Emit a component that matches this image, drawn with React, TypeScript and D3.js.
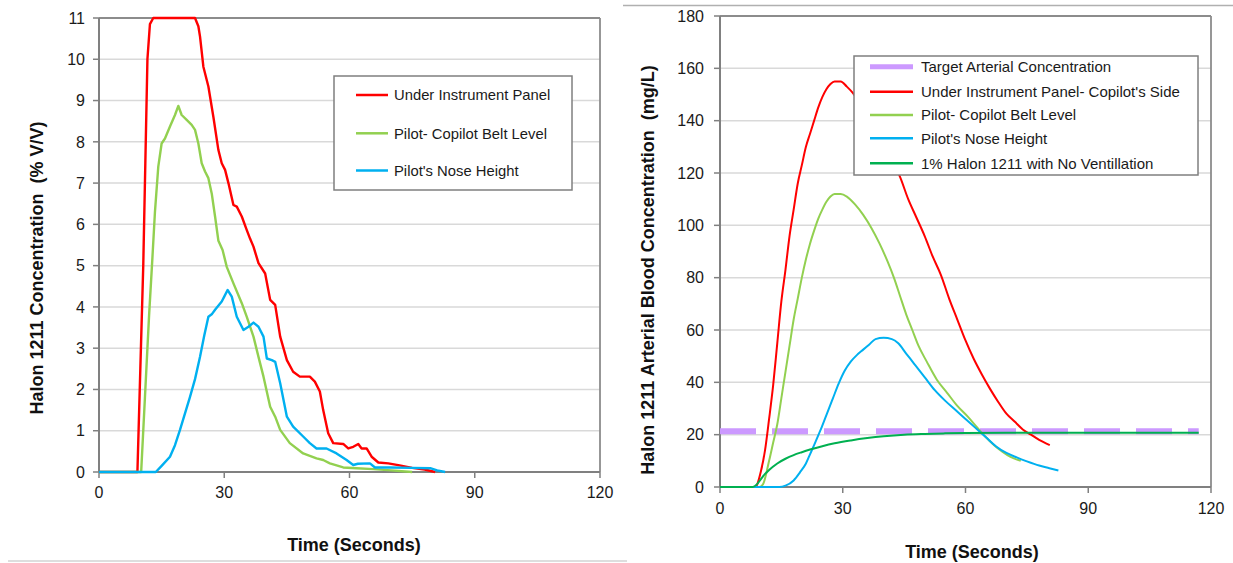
import React from "react";
import * as d3 from "d3";

const FONT = "Arial, 'Liberation Sans', Helvetica, sans-serif";

type Pt = [number, number];

// ---------- Left chart data (Halon 1211 concentration, % V/V) ----------
const leftXTicks = [0, 30, 60, 90, 120];
const leftYTicks = [0, 1, 2, 3, 4, 5, 6, 7, 8, 9, 10, 11];

const leftRed: Pt[] = [
  [0, 0], [9.2, 0], [9.9, 2.5], [10.6, 5], [11.1, 7.5], [11.6, 10], [12.2, 10.85], [13, 11], [23, 11],
  [23.8, 10.8], [24.2, 10.55], [25, 9.82], [26.2, 9.34], [27.4, 8.6], [28.6, 7.8], [29.4, 7.48], [30.2, 7.32],
  [31, 7], [32.2, 6.47], [33, 6.43], [34.2, 6.19], [35.4, 5.86], [36.2, 5.65], [37, 5.46], [38.2, 5.06],
  [39.8, 4.81], [41, 4.17], [42.2, 4.05], [43.4, 3.28], [45, 2.71], [46.5, 2.43], [48.1, 2.31], [50.5, 2.31],
  [51.7, 2.19], [52.9, 1.95], [53.7, 1.5], [54.9, 0.94], [56.1, 0.7], [58.5, 0.68], [59.7, 0.57], [60.9, 0.61],
  [62.1, 0.68], [62.9, 0.57], [64.1, 0.57], [65.3, 0.37], [66.9, 0.23], [69.3, 0.21], [72, 0.16], [75, 0.1],
  [78, 0.06], [80.5, 0],
];

const leftGreen: Pt[] = [
  [0, 0], [10.1, 0], [11, 1.8], [12, 3.8], [12.8, 5.2], [13.4, 6.3], [14.2, 7.4], [15, 7.96], [15.8, 8.08],
  [17, 8.37], [18.2, 8.65], [19, 8.87], [19.8, 8.65], [21, 8.53], [22.2, 8.41], [23, 8.29], [23.8, 7.96],
  [24.6, 7.48], [25.4, 7.28], [26.2, 7.12], [27, 6.75], [27.8, 6.19], [28.6, 5.6], [29.6, 5.38], [30.6, 4.97],
  [32.2, 4.57], [34.2, 4.09], [35.4, 3.76], [37, 3.28], [38.2, 2.79], [39.4, 2.31], [41, 1.58], [42.2, 1.34],
  [43.4, 1.02], [45.7, 0.7], [48.9, 0.45], [52.1, 0.33], [53.7, 0.29], [55.3, 0.21], [58.5, 0.11], [61.7, 0.09],
  [65.7, 0.07], [70, 0.04], [75, 0],
];

const leftBlue: Pt[] = [
  [0, 0], [13.6, 0], [15, 0.15], [17, 0.37], [18.2, 0.65], [19.4, 1.02], [21.8, 1.82], [23, 2.25], [24.2, 2.79],
  [25.2, 3.3], [26.2, 3.76], [27, 3.82], [27.8, 3.93], [29.4, 4.13], [30, 4.25], [30.8, 4.41], [31.8, 4.25],
  [33, 3.76], [34.6, 3.44], [35.8, 3.52], [37, 3.62], [38.2, 3.52], [39.4, 3.28], [40.2, 2.75], [41.4, 2.71],
  [42.2, 2.67], [43.4, 2.15], [45, 1.34], [46.5, 1.1], [48.9, 0.86], [50.5, 0.7], [52.1, 0.57], [54.5, 0.57],
  [56.9, 0.45], [59.3, 0.29], [60.9, 0.17], [62, 0.2], [64.9, 0.21], [66.1, 0.11], [69.7, 0.11], [75, 0.1],
  [79.5, 0.09], [81, 0.04], [82.9, 0],
];

const leftNames = ["Under Instrument Panel", "Pilot- Copilot Belt Level", "Pilot's Nose Height"];

// ---------- Right chart data (arterial blood concentration, mg/L) ----------
const rightXTicks = [0, 30, 60, 90, 120];
const rightYTicks = [0, 20, 40, 60, 80, 100, 120, 140, 160, 180];

const rightTarget: Pt[] = [[0, 21.3], [117, 21.3]];

const rightRed: Pt[] = [
  [0, 0], [8.6, 0], [10, 6], [11, 14], [12, 26], [13, 39], [14, 55], [15, 71], [16, 83], [17, 96], [18, 106],
  [19, 116], [20, 123], [21, 130], [22, 135], [23, 140], [24, 145], [25, 149], [26, 152], [27, 154], [28, 155],
  [29.5, 155], [31, 153], [32.5, 150.5], [34, 147], [36, 142], [38, 136.5], [40, 131], [42, 125], [44, 118.5],
  [46, 110], [48, 103], [50, 96], [52, 88], [54, 81], [56, 72], [58, 64], [60, 56], [62, 49], [64, 43],
  [66, 37.5], [68, 32.5], [70, 28], [72, 25], [74, 22], [76, 20], [78, 18], [80.6, 16],
];

const rightGreen: Pt[] = [
  [0, 0], [9.6, 0], [10.5, 1], [12, 10], [13, 17], [14, 24], [15, 34], [16, 44], [17, 54], [18, 64], [19, 72],
  [20, 80], [21, 87], [22, 93], [23, 98], [24, 102.5], [25, 106], [26, 109], [27, 111], [28, 112], [29.5, 112],
  [31, 111], [33, 108], [35, 104], [37, 99], [39, 93], [41, 86], [42.5, 80], [44, 73], [45.5, 66], [47, 60],
  [48.5, 54], [50.5, 48], [53, 41], [55.5, 36], [58, 31], [60.5, 27], [63, 22.5], [65, 19], [67, 16],
  [69, 13.5], [71, 11.5], [73.5, 10],
];

const rightBlue: Pt[] = [
  [0, 0], [14.5, 0], [16, 0.5], [18, 2.5], [19.5, 5.5], [21, 9], [22, 12.5], [23, 16], [24.5, 21.5], [26, 27.5],
  [27.5, 33.5], [29, 39.5], [30.5, 44.5], [32, 48], [33.5, 50.5], [35, 52.5], [36.5, 54.5], [38, 56.5],
  [40, 57], [42, 56.5], [43.5, 55], [45.5, 51], [47.5, 47], [50, 42], [52.5, 37], [55, 33], [57.5, 29.5],
  [60, 26], [62.5, 22.5], [65, 19], [67.5, 15.5], [70, 13], [72.5, 11.3], [75, 9.8], [78, 8.2], [80.5, 7.2],
  [82.7, 6.3],
];

const rightDarkGreen: Pt[] = [
  [0, 0], [8, 0], [9, 1], [10, 3], [11, 5], [12, 6.5], [13, 7.8], [14, 9], [16, 10.8], [18, 12.2], [20, 13.3],
  [22, 14.3], [25, 15.6], [28, 16.7], [32, 17.8], [36, 18.7], [40, 19.4], [45, 20], [50, 20.3], [55, 20.5],
  [60, 20.6], [70, 20.7], [80, 20.7], [90, 20.7], [100, 20.7], [117, 20.7],
];

const rightNames = [
  "Target Arterial Concentration",
  "Under Instrument Panel- Copilot's Side",
  "Pilot- Copilot Belt Level",
  "Pilot's Nose Height",
  "1% Halon 1211 with No Ventillation",
];

const RED = "#ff0000";
const LGREEN = "#92d050";
const BLUE = "#00b0f0";
const DGREEN = "#00b050";
const LAVENDER = "#cc99ff";

type Series = { data: Pt[]; color: string; width: number; dash?: string; smooth?: boolean };
type LegendItem = { name: string; color: string; width: number };

type PanelProps = {
  x0: number; x1: number; y0: number; y1: number;
  xMax: number; yMax: number;
  xTicks: number[]; yTicks: number[];
  series: Series[];
  yLabelX: number; xLabelY: number;
  xTitle: string; xTitleX: number; xTitleY: number;
  yTitle: string; yTitleX: number; yTitleY: number;
  legend: LegendItem[];
  lgBox: { x: number; y: number; w: number; h: number };
  lgRows: number[]; lgLine: [number, number]; lgText: number; lgFont: number;
};

function Panel(p: PanelProps) {
  const xs = d3.scaleLinear().domain([0, p.xMax]).range([p.x0, p.x1]);
  const ys = d3.scaleLinear().domain([0, p.yMax]).range([p.y1, p.y0]);
  const mk = (smooth?: boolean) =>
    d3.line<Pt>().x((d) => xs(d[0])).y((d) => ys(d[1])).curve(smooth ? d3.curveMonotoneX : d3.curveLinear);
  return (
    <g>
      {p.yTicks.filter((t) => t > 0 && t < p.yMax).map((t) => (
        <line key={"g" + t} x1={p.x0} x2={p.x1} y1={ys(t)} y2={ys(t)} stroke="#d9d9d9" strokeWidth={1.5} />
      ))}
      {/* frame top & right */}
      <line x1={p.x0} x2={p.x1} y1={p.y0} y2={p.y0} stroke="#8c8c8c" strokeWidth={1.8} />
      <line x1={p.x1} x2={p.x1} y1={p.y0} y2={p.y1} stroke="#8c8c8c" strokeWidth={1.8} />
      {/* ticks */}
      {p.yTicks.map((t) => (
        <line key={"yt" + t} x1={p.x0 - 6} x2={p.x0} y1={ys(t)} y2={ys(t)} stroke="#808080" strokeWidth={1.5} />
      ))}
      {p.xTicks.map((t) => (
        <line key={"xt" + t} x1={xs(t)} x2={xs(t)} y1={p.y1} y2={p.y1 + 6} stroke="#808080" strokeWidth={1.5} />
      ))}
      {p.yTicks.map((t) => (
        <text key={"yl" + t} x={p.yLabelX} y={ys(t)} dy="0.36em" textAnchor="end" fontSize={16} fontFamily={FONT} fill="#1a1a1a">
          {t}
        </text>
      ))}
      {p.xTicks.map((t) => (
        <text key={"xl" + t} x={xs(t)} y={p.xLabelY} textAnchor="middle" fontSize={16} fontFamily={FONT} fill="#1a1a1a">
          {t}
        </text>
      ))}
      {/* axes */}
      <line x1={p.x0} x2={p.x0} y1={p.y0} y2={p.y1} stroke="#808080" strokeWidth={2} />
      <line x1={p.x0} x2={p.x1} y1={p.y1} y2={p.y1} stroke="#808080" strokeWidth={2} />
      {/* series */}
      {p.series.map((s, i) => (
        <path key={"s" + i} d={mk(s.smooth)(s.data) || ""} fill="none" stroke={s.color} strokeWidth={s.width}
          strokeDasharray={s.dash} strokeLinejoin="round" />
      ))}
      {/* legend */}
      <rect x={p.lgBox.x} y={p.lgBox.y} width={p.lgBox.w} height={p.lgBox.h} fill="#fff" stroke="#7f7f7f" strokeWidth={1.5} />
      {p.legend.map((l, i) => (
        <g key={"lg" + i}>
          <line x1={p.lgLine[0]} x2={p.lgLine[1]} y1={p.lgRows[i]} y2={p.lgRows[i]} stroke={l.color} strokeWidth={l.width} />
          <text x={p.lgText} y={p.lgRows[i]} dy="0.36em" fontSize={p.lgFont} fontFamily={FONT} fill="#1a1a1a">
            {l.name}
          </text>
        </g>
      ))}
      {/* titles */}
      <text x={p.xTitleX} y={p.xTitleY} textAnchor="middle" fontSize={18} fontWeight="bold" fontFamily={FONT} fill="#111">
        {p.xTitle}
      </text>
      <text transform={`translate(${p.yTitleX},${p.yTitleY}) rotate(-90)`} dy="0.36em" textAnchor="middle"
        fontSize={18} fontWeight="bold" fontFamily={FONT} fill="#111" style={{ whiteSpace: "pre" }}>
        {p.yTitle}
      </text>
    </g>
  );
}

export default function App() {
  return (
    <div style={{ position: "absolute", left: 0, top: 0, width: 1233, height: 563, background: "#fff" }}>
      <svg width={1233} height={563} viewBox="0 0 1233 563">
        <rect width={1233} height={563} fill="#fff" />
        <line x1={8} x2={627} y1={561} y2={561} stroke="#dedede" strokeWidth={2} />
        <line x1={623} x2={1233} y1={5.5} y2={5.5} stroke="#b0b0b0" strokeWidth={1.5} />
        <Panel
          x0={99} x1={600} y0={18} y1={472} xMax={120} yMax={11}
          xTicks={leftXTicks} yTicks={leftYTicks}
          series={[
            { data: leftRed, color: RED, width: 2.4 },
            { data: leftGreen, color: LGREEN, width: 2.4 },
            { data: leftBlue, color: BLUE, width: 2.4 },
          ]}
          yLabelX={85} xLabelY={498}
          xTitle="Time (Seconds)" xTitleX={354} xTitleY={551}
          yTitle="Halon 1211 Concentration  (% V/V)" yTitleX={37} yTitleY={268}
          legend={[
            { name: leftNames[0], color: RED, width: 2.5 },
            { name: leftNames[1], color: LGREEN, width: 2.5 },
            { name: leftNames[2], color: BLUE, width: 2.5 },
          ]}
          lgBox={{ x: 334, y: 76, w: 238, h: 114 }}
          lgRows={[95, 133.3, 170.5]} lgLine={[356, 388]} lgText={394} lgFont={14.8}
        />
        <Panel
          x0={720} x1={1211} y0={16} y1={487} xMax={120} yMax={180}
          xTicks={rightXTicks} yTicks={rightYTicks}
          series={[
            { data: rightTarget, color: LAVENDER, width: 6, dash: "36 16" },
            { data: rightRed, color: RED, width: 2, smooth: true },
            { data: rightGreen, color: LGREEN, width: 2, smooth: true },
            { data: rightBlue, color: BLUE, width: 2, smooth: true },
            { data: rightDarkGreen, color: DGREEN, width: 2, smooth: true },
          ]}
          yLabelX={704} xLabelY={514}
          xTitle="Time (Seconds)" xTitleX={972} xTitleY={558}
          yTitle="Halon 1211 Arterial Blood Concentration  (mg/L)" yTitleX={648} yTitleY={270}
          legend={[
            { name: rightNames[0], color: LAVENDER, width: 5 },
            { name: rightNames[1], color: RED, width: 2.5 },
            { name: rightNames[2], color: LGREEN, width: 2.5 },
            { name: rightNames[3], color: BLUE, width: 2.5 },
            { name: rightNames[4], color: DGREEN, width: 2.5 },
          ]}
          lgBox={{ x: 854, y: 56, w: 344, h: 119 }}
          lgRows={[66.7, 91.7, 115, 138.3, 163.3]} lgLine={[870, 913]} lgText={921} lgFont={15}
        />
      </svg>
    </div>
  );
}
